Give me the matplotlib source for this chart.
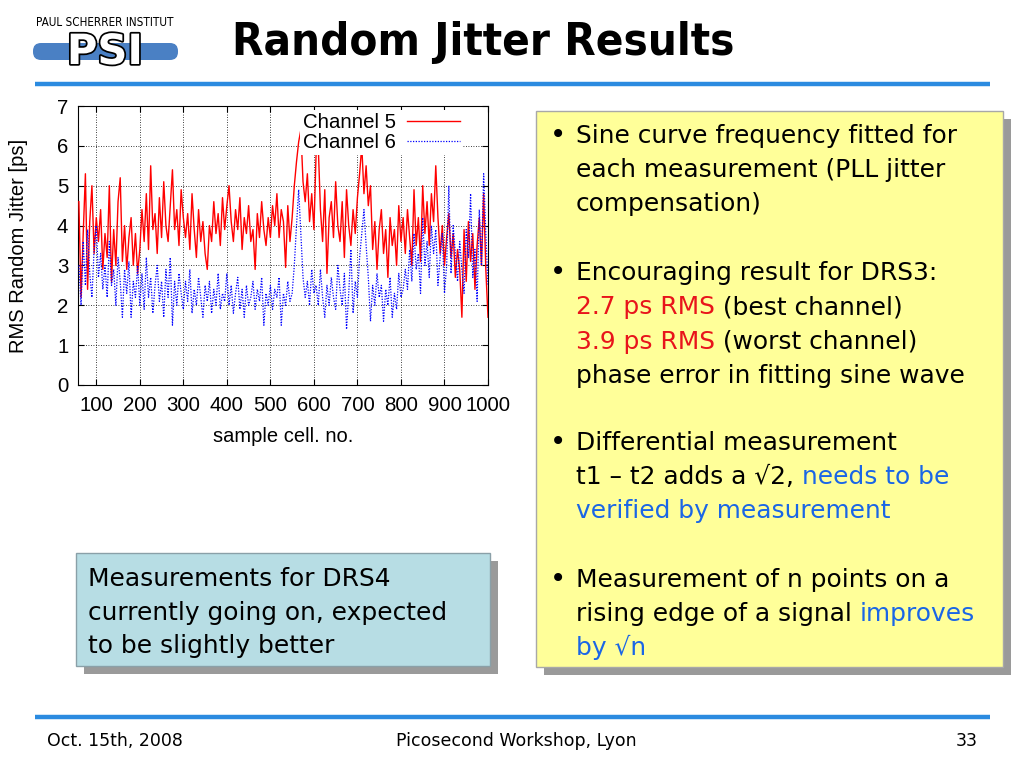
import numpy as np
import matplotlib
matplotlib.use("Agg")
import matplotlib.pyplot as plt
from matplotlib.patches import Rectangle, FancyBboxPatch
import matplotlib.patheffects as pe

# sample cells read every 5 cells off the plot
cells = np.arange(60, 1001, 5)

ch5 = [4.6, 2.2, 3.8, 5.3, 2.4, 4.1, 5.0, 3.3, 4.2, 3.6,
       4.4, 2.9, 3.8, 3.2, 5.0, 2.6, 3.9, 3.0, 4.6, 5.2,
       3.1, 4.0, 2.9, 3.7, 4.2, 3.0, 3.8, 2.8, 3.4, 4.4,
       3.6, 4.8, 3.4, 5.5, 3.9, 4.3, 3.3, 4.7, 3.7, 5.1,
       4.0, 3.6, 4.5, 5.4, 3.9, 4.4, 3.5, 4.9, 4.2, 3.7,
       4.3, 3.4, 4.8, 3.9, 3.2, 4.4, 3.6, 4.1, 3.3, 2.9,
       4.0, 3.6, 4.6, 3.8, 4.3, 3.5, 4.7, 3.9, 4.5, 5.0,
       4.1, 3.6, 4.4, 3.9, 4.7, 3.4, 4.2, 3.8, 4.5, 3.6,
       3.9, 2.9, 4.3, 3.7, 4.6, 3.9, 3.5, 4.2, 3.7, 4.5,
       4.0, 4.8, 3.7, 4.4, 4.1, 2.95, 4.5, 3.6, 4.2, 5.0,
       5.6, 6.1, 6.4, 5.1, 4.6, 5.3, 4.1, 4.8, 3.9, 5.8,
       6.0, 4.4, 3.6, 4.9, 2.8, 4.2, 4.6, 3.7, 5.1, 4.0,
       3.6, 4.6, 3.2, 4.9, 4.0, 3.5, 4.4, 3.8, 4.7, 5.3,
       6.0, 4.8, 5.5, 4.5, 5.0, 3.4, 4.1, 2.9, 3.9, 4.4,
       3.3, 3.9, 2.7, 4.2, 3.5, 3.9, 3.0, 4.5, 3.6, 4.2,
       3.3, 4.4, 3.7, 3.0, 4.9, 3.5, 4.2, 3.1, 5.0, 3.8,
       4.6, 3.5, 4.8, 4.1, 5.5, 4.2, 3.3, 4.0, 3.0, 3.7,
       4.3, 3.2, 3.8, 2.7, 3.4, 2.9, 1.7, 3.9, 2.6, 4.1,
       3.1, 3.8, 2.4, 3.5, 4.2, 3.0, 4.8, 2.9, 1.7]

ch6 = [3.0, 2.0, 3.6, 2.5, 3.9, 2.8, 2.2, 3.4, 4.0, 2.7,
       3.3, 2.4, 3.0, 2.2, 3.6, 2.5, 2.9, 2.0, 3.2, 2.6,
       1.7, 2.9, 2.3, 3.1, 1.7, 2.6, 2.2, 3.0, 2.0, 2.8,
       1.9, 3.2, 2.2, 2.7, 1.8, 2.5, 3.0, 2.1, 2.6, 1.7,
       2.9, 2.2, 3.2, 1.5, 2.6, 2.0, 2.8, 2.3, 1.9, 2.6,
       2.1, 2.9, 1.8, 2.4, 2.0, 2.7, 2.2, 1.7, 2.5, 2.1,
       2.6, 1.8, 2.4, 2.0, 2.8, 1.9, 2.3, 2.1, 2.8, 2.0,
       2.5, 1.8, 2.3, 2.7, 1.9, 2.4, 1.7, 2.5, 2.0, 2.2,
       2.6, 1.9, 2.4, 2.1, 2.7, 1.5, 2.3, 2.0, 2.5, 1.9,
       2.4, 2.2, 2.7, 1.5, 2.3, 2.0, 2.6, 2.1, 2.3, 3.0,
       4.0, 4.9, 3.8, 2.7, 2.2, 2.6, 2.0, 2.9, 2.3, 2.5,
       2.0, 2.9, 2.2, 1.7, 2.5, 2.0, 2.7, 2.2, 1.9, 3.0,
       2.4, 2.0, 2.8, 1.4, 2.3, 3.4, 1.8, 2.6, 2.2, 3.2,
       3.8, 4.4, 3.5, 2.7, 1.6, 2.5, 2.0, 2.8, 2.2, 2.5,
       1.6, 2.4, 2.0, 2.7, 1.7, 2.3, 1.9, 2.8, 2.2, 2.4,
       2.9, 2.4, 3.4, 2.6, 3.8, 2.9, 3.3, 2.3, 4.2, 3.0,
       3.6, 2.7, 4.0, 3.3, 3.9, 2.5, 3.2, 3.8, 2.3, 3.0,
       5.0, 2.8, 4.0, 3.3, 2.6, 3.6, 2.9, 2.3, 3.9, 3.2,
       4.8, 2.7, 3.4, 2.1, 4.4, 3.0, 5.3, 3.8, 2.5]

x_ticks = list(range(100, 1001, 100))
y_ticks = list(range(0, 8))

RED = "#e8141b"
BLUE = "#1a66e6"
TXT = 17.9

fig = plt.figure(figsize=(10.24, 7.68), dpi=100)

# overlay axes in pixel coordinates for the slide decoration
ov = fig.add_axes([0, 0, 1, 1])
ov.set_xlim(0, 1024)
ov.set_ylim(768, 0)
ov.axis("off")

# --- chart ---
ax = fig.add_axes([78 / 1024, 1 - 385 / 768, 410 / 1024, 279 / 768])
ax.plot(cells, ch5, color="red", lw=1.0, label="Channel 5")
ax.plot(cells, ch6, color="blue", lw=0.9, ls=(0, (1, 1.2)), label="Channel 6")
ax.set_xlim(58, 1000)
ax.set_ylim(0, 7)
ax.set_xticks(x_ticks)
ax.set_yticks(y_ticks)
ax.grid(True, color="black", ls=(0, (1, 2)), lw=0.6)
ax.tick_params(direction="in", top=True, right=True, length=4, labelsize=14.7)
ax.tick_params(axis="y", pad=7)
ax.tick_params(axis="x", pad=8)
for lab in ax.get_xticklabels() + ax.get_yticklabels():
    lab.set_family("Liberation Sans")
ax.set_ylabel("RMS Random Jitter [ps]", fontsize=14.5, family="Liberation Sans")
ax.yaxis.label.set_va("center")
ax.yaxis.set_label_coords(-(78 - 18) / 410, 0.5)
ax.set_xlabel("sample cell. no.", fontsize=14.5, family="Liberation Sans")
ax.xaxis.label.set_va("center")
ax.xaxis.set_label_coords(0.5, -(437 - 385) / 279)
leg = ax.legend(loc="upper right", bbox_to_anchor=(1 - 25 / 410, 1 - 4 / 279),
                markerfirst=False, fancybox=False, facecolor="white",
                edgecolor="none", framealpha=1, borderaxespad=0, borderpad=0.15,
                handlelength=2.6, handletextpad=0.55, labelspacing=0.05,
                prop={"family": "Liberation Sans", "size": 14.7})
for line in ax.get_lines():
    line.set_zorder(3)
leg.set_zorder(5)

# --- header ---
ov.text(105, 22, "PAUL SCHERRER INSTITUT", fontsize=8.4, ha="center", va="center",
        fontstretch="condensed")
ov.add_patch(FancyBboxPatch((33, 43), 145, 17, boxstyle="round,pad=0,rounding_size=8",
                            fc="#4a80c4", ec="none"))
ov.text(105, 52, "PSI", fontsize=30, fontweight="bold", color="white", ha="center",
        va="center", path_effects=[pe.withStroke(linewidth=2.5, foreground="black")])
ov.text(232, 42, "Random Jitter Results", fontsize=32.7, fontweight="bold",
        ha="left", va="center", fontstretch="condensed")
ov.plot([35, 990], [84, 84], color="#2b8be0", lw=3.2, solid_capstyle="butt")
ov.plot([35, 990], [717, 717], color="#2b8be0", lw=3.2, solid_capstyle="butt")

# --- footer ---
ov.text(47, 741, "Oct. 15th, 2008", fontsize=12.5, va="center")
ov.text(516, 741, "Picosecond Workshop, Lyon", fontsize=12.5, va="center", ha="center")
ov.text(978, 741, "33", fontsize=12.5, va="center", ha="right")

# --- text boxes ---
ov.add_patch(Rectangle((544, 119), 467, 556, fc="#9a9a9a", ec="none"))
ov.add_patch(Rectangle((536, 111), 467, 556, fc="#ffff99", ec="#a8a8a8", lw=1))
ov.add_patch(Rectangle((84, 561), 414, 113, fc="#9a9a9a", ec="none"))
ov.add_patch(Rectangle((76, 553), 414, 113, fc="#b7dde4", ec="#8aa0a8", lw=1))

renderer = fig.canvas.get_renderer()


def text_width(s, size):
    t = ov.text(0, 0, s + "|", fontsize=size)
    w1 = t.get_window_extent(renderer).width
    t.set_text("|")
    w2 = t.get_window_extent(renderer).width
    t.remove()
    return w1 - w2


def draw_line(x, y, pieces, size=TXT):
    for s, c in pieces:
        ov.text(x, y, s, fontsize=size, color=c, ha="left", va="baseline")
        x += text_width(s, size)


right_lines = [
    (135, True, [("Sine curve frequency fitted for", "black")]),
    (169, False, [("each measurement (PLL jitter", "black")]),
    (203, False, [("compensation)", "black")]),
    (272, True, [("Encouraging result for DRS3:", "black")]),
    (306, False, [("2.7 ps RMS", RED), (" (best channel)", "black")]),
    (341, False, [("3.9 ps RMS", RED), (" (worst channel)", "black")]),
    (375, False, [("phase error in fitting sine wave", "black")]),
    (442, True, [("Differential measurement", "black")]),
    (476, False, [("t1 \u2013 t2 adds a \u221a2, ", "black"), ("needs to be", BLUE)]),
    (510, False, [("verified by measurement", BLUE)]),
    (579, True, [("Measurement of n points on a", "black")]),
    (613, False, [("rising edge of a signal ", "black"), ("improves", BLUE)]),
    (647, False, [("by \u221an", BLUE)]),
]
for y, bullet, pieces in right_lines:
    if bullet:
        ov.text(550, y + 8, "\u2022", fontsize=TXT + 2, ha="left", va="baseline")
    draw_line(576, y + 8, pieces)

left_lines = ["Measurements for DRS4", "currently going on, expected",
              "to be slightly better"]
for y, s in zip([578, 612, 645], left_lines):
    draw_line(88, y + 8, [(s, "black")])

fig.savefig("out.png", dpi=100)
